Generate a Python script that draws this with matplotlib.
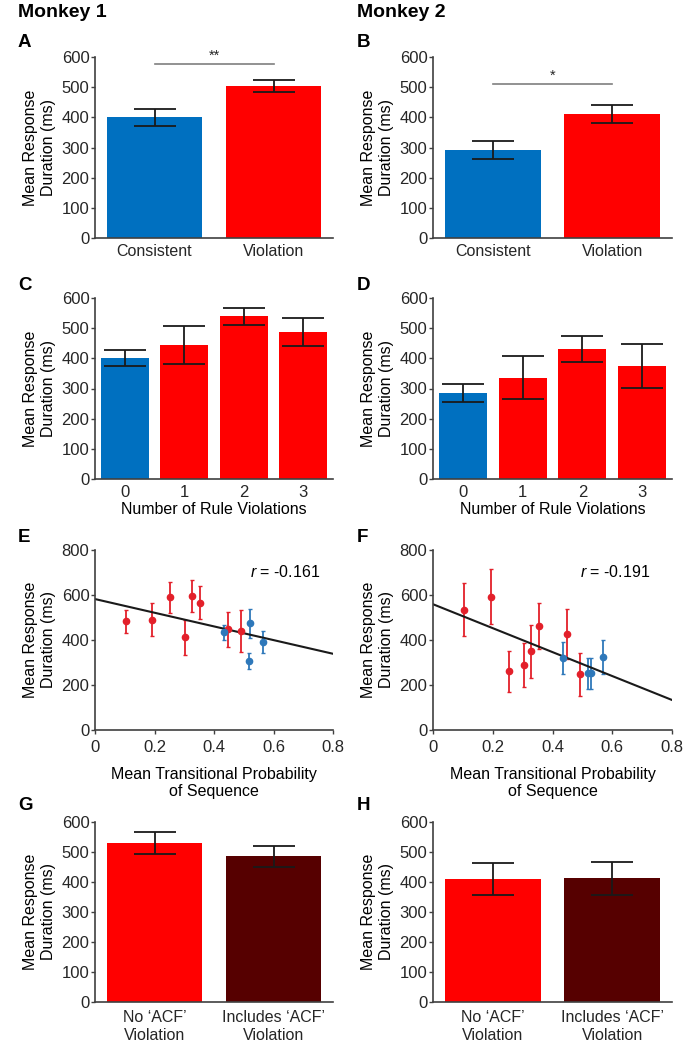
import matplotlib
matplotlib.use("Agg")
import matplotlib.pyplot as plt
import numpy as np

plt.rcParams["font.family"] = ["Liberation Sans", "DejaVu Sans"]
plt.rcParams["mathtext.fontset"] = "custom"
plt.rcParams["mathtext.rm"] = "Liberation Sans"
plt.rcParams["mathtext.it"] = "Liberation Sans:italic"

# ─── data ────────────────────────────────────
cv_labels = ["Consistent", "Violation"]
cv_m1 = [400, 505]
cv_m1_err = [28, 20]
cv_m2 = [292, 410]
cv_m2_err = [30, 30]

nviol_labels = ["0", "1", "2", "3"]
nviol_m1 = [401, 444, 539, 488]
nviol_m1_err = [28, 62, 27, 46]
nviol_m2 = [285, 336, 432, 375]
nviol_m2_err = [31, 71, 43, 73]

# scatter: mean transitional probability vs response duration
tp_red_m1 = [0.103, 0.191, 0.252, 0.302, 0.327, 0.352, 0.448, 0.490]
dur_red_m1 = [484, 490, 591, 412, 594, 566, 447, 440]
err_red_m1 = [51, 74, 69, 77, 71, 72, 77, 92]
tp_blue_m1 = [0.433, 0.522, 0.516, 0.566]
dur_blue_m1 = [434, 474, 308, 391]
err_blue_m1 = [33, 64, 35, 50]
fit_m1 = (582, -304)   # intercept, slope
r_m1 = "-0.161"

tp_red_m2 = [0.104, 0.194, 0.254, 0.303, 0.328, 0.354, 0.449, 0.492]
dur_red_m2 = [535, 593, 261, 289, 350, 462, 427, 247]
err_red_m2 = [117, 122, 90, 96, 117, 104, 111, 94]
tp_blue_m2 = [0.435, 0.520, 0.528, 0.570]
dur_blue_m2 = [319, 252, 252, 324]
err_blue_m2 = [71, 69, 69, 74]
fit_m2 = (559, -532)
r_m2 = "-0.191"

acf_labels = ["No \u2018ACF\u2019\nViolation", "Includes \u2018ACF\u2019\nViolation"]
acf_m1 = [530, 486]
acf_m1_err = [38, 35]
acf_m2 = [410, 413]
acf_m2_err = [53, 55]

BLUE = "#0070C0"
RED = "#FF0000"
DARK = "#560000"
PT_RED = "#E3202A"
PT_BLUE = "#2E78BA"
AX = "#404040"
FS = 11.5

W, H = 695, 1049
fig = plt.figure(figsize=(W / 100, H / 100), dpi=100)


def add_ax(left, top, right, bottom):
    return fig.add_axes([left / W, 1 - bottom / H, (right - left) / W, (bottom - top) / H])


def style(ax, ymax, step):
    for s in ["top", "right"]:
        ax.spines[s].set_visible(False)
    for s in ["left", "bottom"]:
        ax.spines[s].set_color(AX)
        ax.spines[s].set_linewidth(1.2)
    ax.set_ylim(0, ymax)
    ax.set_yticks(np.arange(0, ymax + 1, step))
    ax.tick_params(axis="y", colors=AX, labelsize=12, length=3, width=1, pad=1)
    ax.tick_params(axis="x", colors=AX, labelsize=FS, length=0, pad=4)
    for lab in ax.get_xticklabels() + ax.get_yticklabels():
        lab.set_color("#262626")
    ax.set_ylabel("Mean Response\nDuration (ms)", fontsize=FS, labelpad=4, linespacing=1.25)


def bars(ax, labels, vals, errs, colors):
    x = np.arange(len(vals))
    ax.bar(x, vals, width=0.8, color=colors)
    ax.errorbar(x, vals, yerr=errs, fmt="none", ecolor="#1a1a1a", elinewidth=1.3,
                capsize=15, capthick=1.3)
    ax.set_xlim(-0.5, len(vals) - 0.5)
    ax.set_xticks(x)
    ax.set_xticklabels(labels)
    style(ax, 600, 100)


def scatter(ax, tr, dr, er, tb, db, eb, fit):
    ax.errorbar(tr, dr, yerr=er, fmt="o", color=PT_RED, ms=4.5, elinewidth=1.3,
                capsize=1.5, capthick=1)
    ax.errorbar(tb, db, yerr=eb, fmt="o", color=PT_BLUE, ms=4.5, elinewidth=1.3,
                capsize=1.5, capthick=1)
    xs = np.array([0, 0.8])
    ax.plot(xs, fit[0] + fit[1] * xs, color="#1a1a1a", lw=1.5)
    ax.set_xlim(0, 0.8)
    ax.set_xticks([0, 0.2, 0.4, 0.6, 0.8])
    ax.set_xticklabels(["0", "0.2", "0.4", "0.6", "0.8"])
    style(ax, 800, 200)
    ax.tick_params(axis="x", length=3, width=1, labelsize=12)
    ax.set_xlabel("Mean Transitional Probability\nof Sequence", fontsize=FS,
                  labelpad=9, linespacing=1.15)


# columns
L = (95, 333)
R = (433, 672)

axA = add_ax(L[0], 57, L[1], 238)
bars(axA, cv_labels, cv_m1, cv_m1_err, [BLUE, RED])
axA.plot([0, 1], [577, 577], color="#7f7f7f", lw=1.2, clip_on=False)
axA.text(0.5, 582, "**", ha="center", va="bottom", fontsize=10.5, color="#262626")

axB = add_ax(R[0], 57, R[1], 238)
bars(axB, cv_labels, cv_m2, cv_m2_err, [BLUE, RED])
axB.plot([0, 1], [510, 510], color="#7f7f7f", lw=1.2, clip_on=False)
axB.text(0.5, 515, "*", ha="center", va="bottom", fontsize=10.5, color="#262626")

axC = add_ax(L[0], 298, L[1], 479)
bars(axC, nviol_labels, nviol_m1, nviol_m1_err, [BLUE, RED, RED, RED])
axC.tick_params(axis="x", labelsize=12)
axC.set_xlabel("Number of Rule Violations", fontsize=FS, labelpad=2)

axD = add_ax(R[0], 298, R[1], 479)
bars(axD, nviol_labels, nviol_m2, nviol_m2_err, [BLUE, RED, RED, RED])
axD.tick_params(axis="x", labelsize=12)
axD.set_xlabel("Number of Rule Violations", fontsize=FS, labelpad=2)

axE = add_ax(L[0], 550, L[1], 730)
scatter(axE, tp_red_m1, dur_red_m1, err_red_m1, tp_blue_m1, dur_blue_m1, err_blue_m1, fit_m1)
axE.text(0.756, 702, r"$\mathit{r}$ = " + r_m1, ha="right", va="center", fontsize=FS)

axF = add_ax(R[0], 550, R[1], 730)
scatter(axF, tp_red_m2, dur_red_m2, err_red_m2, tp_blue_m2, dur_blue_m2, err_blue_m2, fit_m2)
axF.text(0.726, 702, r"$\mathit{r}$ = " + r_m2, ha="right", va="center", fontsize=FS)

axG = add_ax(L[0], 822, L[1], 1002)
bars(axG, acf_labels, acf_m1, acf_m1_err, [RED, DARK])

axH = add_ax(R[0], 822, R[1], 1002)
bars(axH, acf_labels, acf_m2, acf_m2_err, [RED, DARK])

for ax in (axG, axH):
    ax.tick_params(axis="x", pad=6)
    for lab in ax.get_xticklabels():
        lab.set_linespacing(1.2)

# titles and panel letters
fig.text(18 / W, 1 - 17 / H, "Monkey 1", fontsize=14, fontweight="bold", va="baseline")
fig.text(357 / W, 1 - 17 / H, "Monkey 2", fontsize=14, fontweight="bold", va="baseline")
letters = [("A", 18, 47), ("B", 357, 47), ("C", 18, 290), ("D", 357, 290),
           ("E", 18, 542), ("F", 357, 542), ("G", 18, 810), ("H", 357, 810)]
for t, x, y in letters:
    fig.text(x / W, 1 - y / H, t, fontsize=13.5, fontweight="bold", va="baseline")

fig.savefig("out.png", dpi=100)
